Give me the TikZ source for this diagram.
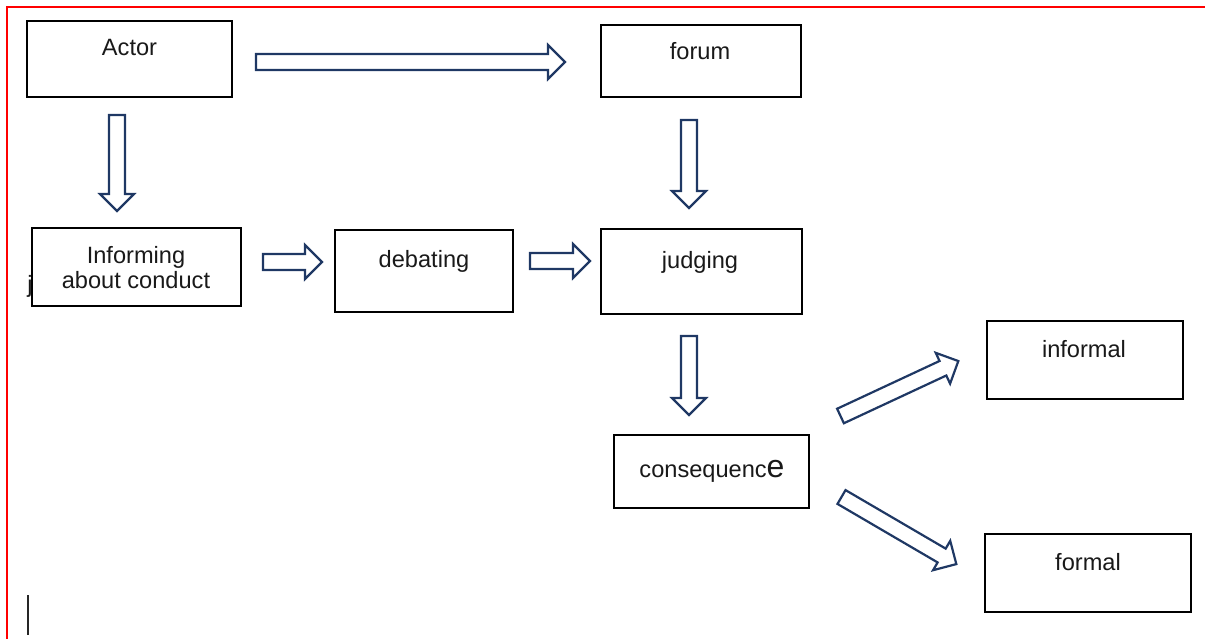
\documentclass[tikz,border=0pt]{standalone}
\usepackage{fontspec}
\setmainfont{Liberation Sans}
\definecolor{navy}{HTML}{1F3864}
\newcommand\blockarrow[4]{% tail x, tail y, angle, length
  \begin{scope}[shift={(#1,#2)}, rotate=#3]
    \draw[blk] (0,-8) -- ({#4-17},-8) -- ({#4-17},-17) -- (#4,0) -- ({#4-17},17) -- ({#4-17},8) -- (0,8) -- cycle;
  \end{scope}}
\begin{document}
\begin{tikzpicture}[x=1pt,y=-1pt,
  box/.style={draw=black, line width=2pt, fill=white, inner sep=0pt},
  lbl/.style={font=\fontsize{23.6}{26}\selectfont, text=black!90, anchor=base, inner sep=0pt},
  blk/.style={draw=navy, line width=2.2pt, fill=white, line join=miter}]
\useasboundingbox (0,0) rectangle (1205,639);
\draw[red, line width=1.4pt] (7,639) -- (7,7) -- (1205,7);
% stray glyph and cursor line
\node[lbl] (jstray) at (30,292) {j};
\draw[black!85, line width=1.2pt] (28,595) -- (28,635);
% boxes
\draw[box] (27,21) rectangle (232,97) node[pos=0.5] (actor) {};
\draw[box] (601,25) rectangle (801,97) node[pos=0.5] (forum) {};
\draw[box] (32,228) rectangle (241,306) node[pos=0.5] (inform) {};
\draw[box] (335,230) rectangle (513,312) node[pos=0.5] (debating) {};
\draw[box] (601,229) rectangle (802,314) node[pos=0.5] (judging) {};
\draw[box] (614,435) rectangle (809,508) node[pos=0.5] (conseq) {};
\draw[box] (987,321) rectangle (1183,399) node[pos=0.5] (informal) {};
\draw[box] (985,534) rectangle (1191,612) node[pos=0.5] (formal) {};
% labels
\node[lbl] (tactor) at (129.5,56) {Actor};
\node[lbl] (tforum) at (700,59.5) {forum};
\node[lbl] (tinf1) at (136,264) {Informing};
\node[lbl] (tinf2) at (136,288) {about conduct};
\node[lbl] (tdeb) at (424,268) {debating};
\node[lbl] (tjud) at (700,269) {judging};
\node[lbl] (tcon) at (712,477) {consequenc{\fontsize{32}{34}\selectfont e}};
\node[lbl] (tinfo) at (1084,357) {informal};
\node[lbl] (tform) at (1088,570) {formal};
% block arrows
\blockarrow{256}{62}{0}{309}
\blockarrow{117}{115}{-90}{96}
\blockarrow{689}{120}{-90}{88}
\blockarrow{263}{262}{0}{59}
\blockarrow{530}{261}{0}{60}
\blockarrow{689}{336}{-90}{79}
\blockarrow{840.5}{416}{25}{130}
\blockarrow{841.5}{497}{-30.3}{133}
\end{tikzpicture}
\end{document}
